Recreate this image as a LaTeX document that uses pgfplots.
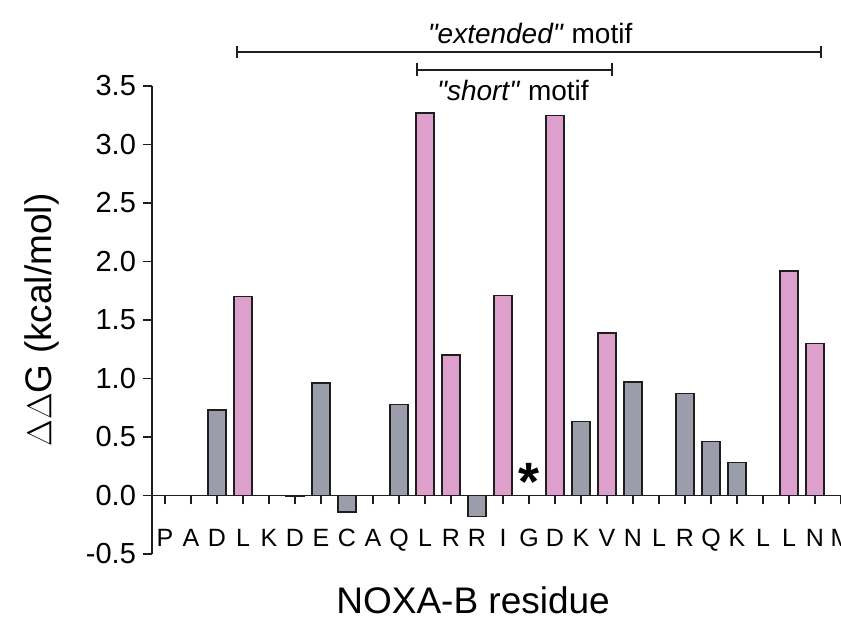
\documentclass[border=0pt]{standalone}
\usepackage{pgfplots}
\pgfplotsset{compat=1.18}
\usepackage{fontspec}
\setmainfont{Liberation Sans}[Ligatures=TeXOff]
\definecolor{barpink}{RGB}{221,160,204}
\definecolor{bargray}{RGB}{155,157,170}
\definecolor{edge}{RGB}{30,30,30}

\begin{document}
\begin{tikzpicture}
\path[use as bounding box] (0,0) rectangle (420.5pt,312pt);
\clip (0,0) rectangle (420.5pt,312pt);
\begin{axis}[
    at={(76pt,35pt)}, anchor=south west,
    scale only axis,
    width=344.5pt, height=234pt,
    xmin=-0.5, xmax=26,
    ymin=-0.5, ymax=3.5,
    axis y line=left,
    axis x line=middle,
    axis line style={-, line width=0.9pt, color=edge},
    hide obscured x ticks=false,
    hide obscured y ticks=false,
    clip=false,
    xtick={0,...,26},
    xticklabels={P,A,D,L,K,D,E,C,A,Q,L,R,R,I,G,D,K,V,N,L,R,Q,K,L,L,N,M},
    xtick align=outside,
    ytick align=outside,
    major tick length=4.5pt,
    tick style={line width=0.8pt, color=edge},
    ytick={-0.5,0,...,3.5},
    yticklabel style={/pgf/number format/fixed, /pgf/number format/precision=1,
        /pgf/number format/fixed zerofill, font=\fontsize{14.5}{16}\selectfont},
    /pgf/number format/assume math mode=true,
    xticklabel style={font=\fontsize{12.5}{14}\selectfont, anchor=base, yshift=-21pt},
    xlabel={NOXA-B residue},
    ylabel={$\Delta\Delta$G (kcal/mol)},
    xlabel style={at={(axis description cs:0.466,-0.098)}, anchor=center, font=\fontsize{18.5}{20}\selectfont},
    ylabel style={at={(axis description cs:-0.16,0.5)}, anchor=center, rotate=0, font=\fontsize{18.5}{20}\selectfont},
]
% gray residues
\addplot[ybar, bar width=0.7, bar shift=0pt, fill=bargray, draw=edge, line width=0.7pt]
  coordinates {(2,0.73) (5,-0.01) (6,0.96) (7,-0.14) (9,0.78) (12,-0.18) (16,0.63) (18,0.97) (20,0.87) (21,0.46) (22,0.28)};
% pink residues
\addplot[ybar, bar width=0.7, bar shift=0pt, fill=barpink, draw=edge, line width=0.7pt]
  coordinates {(3,1.70) (10,3.27) (11,1.20) (13,1.71) (15,3.25) (17,1.39) (24,1.92) (25,1.30)};

\node[font=\fontsize{27}{27}\selectfont\bfseries] at (axis cs:14,0.12) {*};

% motif brackets
\draw[line width=1pt, color=edge] (axis cs:2.77,3.79) -- (axis cs:25.23,3.79);
\draw[line width=1pt, color=edge] (axis cs:2.77,3.735) -- (axis cs:2.77,3.845);
\draw[line width=1pt, color=edge] (axis cs:25.23,3.735) -- (axis cs:25.23,3.845);
\draw[line width=1pt, color=edge] (axis cs:9.69,3.64) -- (axis cs:17.19,3.64);
\draw[line width=1pt, color=edge] (axis cs:9.69,3.585) -- (axis cs:9.69,3.695);
\draw[line width=1pt, color=edge] (axis cs:17.19,3.585) -- (axis cs:17.19,3.695);
\node[font=\fontsize{14}{16}\selectfont] at (axis cs:14.04,3.95) {\textit{"extended"} motif};
\node[font=\fontsize{14}{16}\selectfont] at (axis cs:13.38,3.46) {\textit{"short"} motif};
\end{axis}
\end{tikzpicture}
\end{document}
